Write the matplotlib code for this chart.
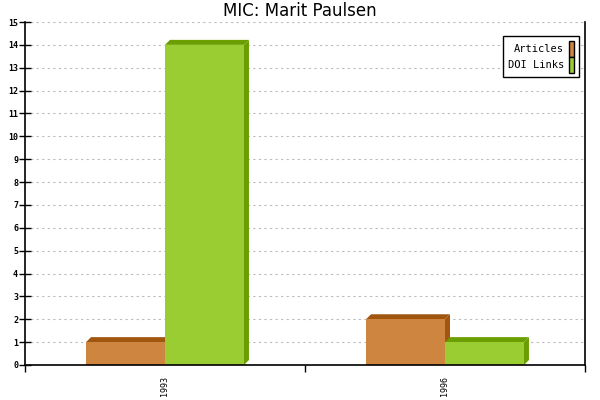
import matplotlib
matplotlib.use("Agg")
import matplotlib.pyplot as plt
import matplotlib.transforms as mtransforms
from matplotlib.patches import Polygon, Rectangle

# chart data
categories = ["1993", "1996"]
articles = [1, 2]
doi_links = [14, 1]
series_names = ["Articles", "DOI Links"]

face_colors = ["#CD853F", "#9ACD32"]
dark_colors = ["#A0560F", "#6B9E00"]

fig = plt.figure(figsize=(6, 4), dpi=100)
ax = fig.add_axes([25 / 600, 35 / 400, 560 / 600, 343 / 400])

bar_w = 0.282
depth = 5 * 72 / 100  # 5 px in points

ax.set_xlim(-0.5, len(categories) - 0.5)
ax.set_ylim(0, 15)

zo = [2]


def draw_bar(x0, height, face, dark):
    # front face in data coords, 3D top and side in pixels
    x1 = x0 + bar_w
    shift = mtransforms.offset_copy(ax.transData, fig=fig, x=depth, y=depth, units="points")
    ident = mtransforms.IdentityTransform()
    front = ax.transData.transform([(x1, 0), (x1, height), (x0, height)])
    back = shift.transform([(x1, 0), (x1, height), (x0, height)])
    side = Polygon([front[0], back[0], back[1], front[1]], closed=True,
                   transform=ident, facecolor=dark, edgecolor="none", clip_on=False)
    top = Polygon([front[2], back[2], back[1], front[1]], closed=True,
                  transform=ident, facecolor=dark, edgecolor="none", clip_on=False)
    side.set_zorder(zo[0])
    top.set_zorder(zo[0])
    ax.add_patch(side)
    ax.add_patch(top)
    ax.add_patch(Rectangle((x0, 0), bar_w, height, facecolor=face, edgecolor="none",
                           zorder=zo[0] + 0.5))
    zo[0] += 1


for i in range(len(categories)):
    draw_bar(i - bar_w, articles[i], face_colors[0], dark_colors[0])
    draw_bar(i, doi_links[i], face_colors[1], dark_colors[1])

ax.set_yticks(range(0, 16))
ax.yaxis.grid(True, linestyle=(0, (2, 3)), color="#BBBBBB", linewidth=0.8)
ax.set_axisbelow(True)
ax.tick_params(axis="y", direction="inout", length=8, width=1, labelsize=6, pad=1)
for lab in ax.get_yticklabels():
    lab.set_family("DejaVu Sans Mono")
    lab.set_fontweight("bold")

ax.set_xticks([-0.5, 0.5, 1.5])
ax.set_xticklabels([])
ax.tick_params(axis="x", direction="out", length=5, width=1)
for i, c in enumerate(categories):
    ax.text(i, -0.5, c, rotation=90, ha="center", va="top", fontsize=6,
            family="DejaVu Sans Mono")

ax.spines["top"].set_visible(False)
for s in ["left", "right", "bottom"]:
    ax.spines[s].set_linewidth(1.2)
    ax.spines[s].set_zorder(20)

handles = [Rectangle((0, 0), 1, 1, facecolor=c, edgecolor="black", linewidth=1) for c in face_colors]
leg = ax.legend(handles, series_names, loc="upper right", markerfirst=False,
                prop={"family": "DejaVu Sans Mono", "size": 7.5}, fancybox=False,
                edgecolor="black", framealpha=1, handlelength=0.5, handleheight=1.9,
                handletextpad=0.5, borderpad=0.45, labelspacing=0.05,
                bbox_to_anchor=(0.9985, 0.973))
leg.get_frame().set_linewidth(1)
leg.set_zorder(30)

fig.suptitle("MIC: Marit Paulsen", fontsize=12, y=0.995)

fig.savefig("out.png", dpi=100)
